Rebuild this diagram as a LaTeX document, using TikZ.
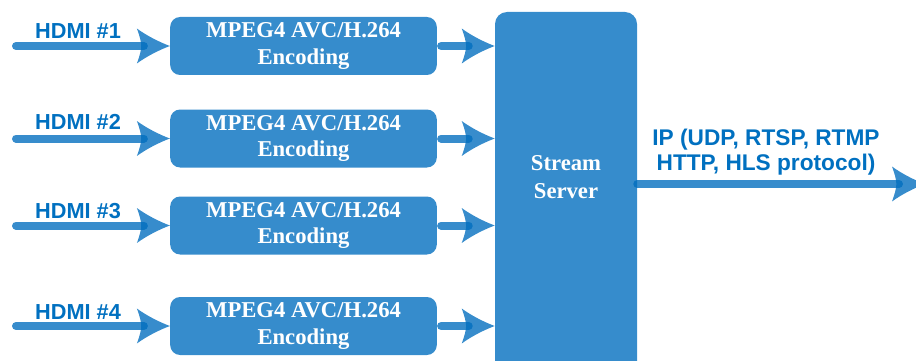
\documentclass[tikz,border=0pt]{standalone}
\usepackage{fontspec}
\setmainfont{Liberation Serif}
\newfontfamily\labelfont{Liberation Sans}
\definecolor{boxblue}{RGB}{54,140,204}
\definecolor{arrowblue}{RGB}{0,109,190}
\definecolor{textblue}{RGB}{0,112,192}
\pgfdeclarearrow{
  name = Swept,
  setup code = {
    \pgfarrowssettipend{0pt}
    \pgfarrowssetlineend{-19.5pt}
    \pgfarrowssetbackend{-24.75pt}
  },
  drawing code = {
    \pgfpathmoveto{\pgfpoint{0pt}{0pt}}
    \pgfpathcurveto{\pgfpoint{-8pt}{3pt}}{\pgfpoint{-17pt}{7.5pt}}{\pgfpoint{-24.75pt}{13.1pt}}
    \pgfpathcurveto{\pgfpoint{-22.5pt}{7pt}}{\pgfpoint{-21.5pt}{3pt}}{\pgfpoint{-21.5pt}{0pt}}
    \pgfpathcurveto{\pgfpoint{-21.5pt}{-3pt}}{\pgfpoint{-22.5pt}{-7pt}}{\pgfpoint{-24.75pt}{-13.1pt}}
    \pgfpathcurveto{\pgfpoint{-17pt}{-7.5pt}}{\pgfpoint{-8pt}{-3pt}}{\pgfpoint{0pt}{0pt}}
    \pgfpathclose
    \pgfusepathqfill
  }
}
\begin{document}
\begin{tikzpicture}[x=0.75pt,y=-0.75pt,
  encbox/.style={fill=boxblue,rounded corners=7.5pt,minimum width=200pt,minimum height=43.5pt,
    inner sep=0pt,align=center,text=white,font=\bfseries\fontsize{17}{20}\selectfont},
  srvbox/.style={fill=boxblue,rounded corners=9pt,minimum width=106.5pt,minimum height=276pt,inner sep=0pt},
  srvtext/.style={text=white,align=center,inner sep=0pt,font=\bfseries\fontsize{17}{20.5}\selectfont},
  hdmi/.style={text=textblue,inner sep=0pt,font=\labelfont\bfseries\fontsize{16.3}{19}\selectfont},
  iptext/.style={text=textblue,inner sep=0pt,align=center,font=\labelfont\bfseries\fontsize{17}{18.75}\selectfont},
  flow/.style={draw=arrowblue,opacity=0.786,line width=6pt,line cap=round,-Swept}]
\useasboundingbox (0,0) rectangle (916,360);
% nodes
\node[srvbox] (srv) at (566,196) {};
\node[srvtext] (srvtxt) at (566,177) {Stream\\Server};
\foreach \i/\y in {1/46,2/138.5,3/225.5,4/326}{
  \node[encbox] (e\i) at (303.5,\y) {MPEG4 AVC/H.264\\Encoding};
  \coordinate (h\i) at (16,\y);
  \coordinate (s\i) at (srv.west |- e\i.east);
}
\node[hdmi] (l1) at (78,31) {HDMI \#1};
\node[hdmi] (l2) at (78,122) {HDMI \#2};
\node[hdmi] (l3) at (78,211) {HDMI \#3};
\node[hdmi] (l4) at (78,312) {HDMI \#4};
\node[iptext] (ip) at (766,152.5) {IP (UDP, RTSP, RTMP\\HTTP, HLS protocol)};
% connectors
\foreach \i in {1,2,3,4}{
  \draw[flow] (h\i) -- (e\i.west);
  \draw[flow] ([xshift=3pt]e\i.east) -- (s\i);
}
\coordinate (out) at (925,184);
\draw[flow] (srv.east |- out) -- (out);
\end{tikzpicture}
\end{document}
